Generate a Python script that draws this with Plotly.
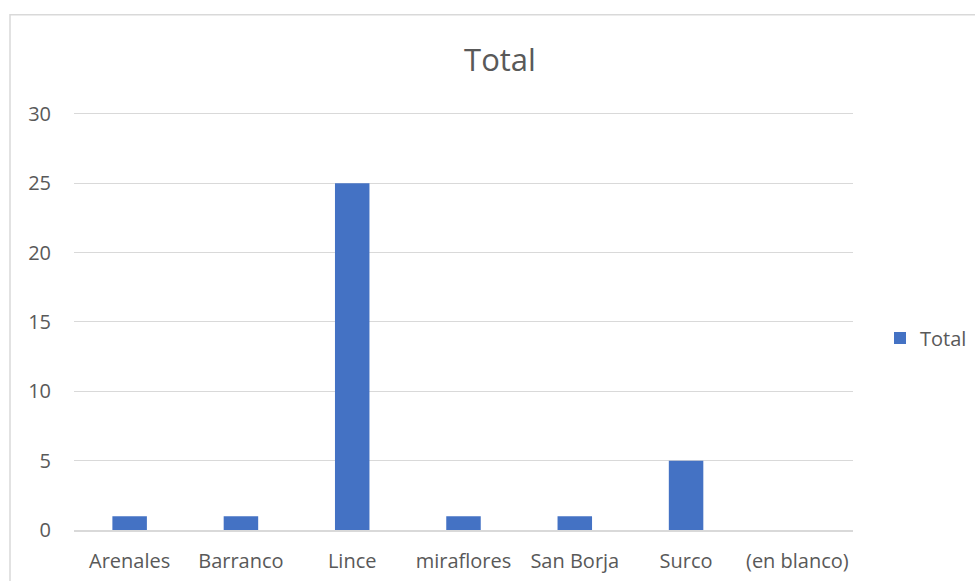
import plotly.graph_objects as go

categories = ["Arenales", "Barranco", "Lince", "miraflores", "San Borja", "Surco", "(en blanco)"]
values = [1, 1, 25, 1, 1, 5, 0]
y_ticks = [0, 5, 10, 15, 20, 25, 30]
y_max = 31

W, H = 975, 581
L, R, B = 74, 853, 530
T = B - 416 * y_max / 30
pw, ph = R - L, B - T

def px_x(x):
    return (x - L) / pw

def px_y(y):
    return (B - y) / ph

fig = go.Figure()
fig.add_trace(go.Bar(x=categories, y=values, name="Total", marker_color="#4472C4",
                     marker_line_width=0, width=0.31, showlegend=True))

font_fam = "'Open Sans', sans-serif"
fig.update_layout(
    width=W, height=H,
    margin=dict(l=L, r=W - R, t=T, b=H - B, autoexpand=False),
    paper_bgcolor="white", plot_bgcolor="white",
    font=dict(family=font_fam, color="#595959", size=20),
    title=dict(text="Total", x=px_x(500), xanchor="center", xref="paper",
               y=1 - 60 / H, yanchor="middle", yref="container",
               font=dict(size=31, color="#595959", family=font_fam)),
    showlegend=True,
    legend=dict(x=px_x(880), xanchor="left", y=px_y(338), yanchor="middle",
                font=dict(size=20, color="#595959"), itemwidth=30, bgcolor="rgba(0,0,0,0)"),
    xaxis=dict(showgrid=False, showline=True, linecolor="#d9d9d9", linewidth=1.5,
               ticks="", ticklabelstandoff=12, tickfont=dict(size=20, color="#595959")),
    yaxis=dict(range=[0, y_max], tickvals=y_ticks, showgrid=True, gridcolor="#d9d9d9",
               gridwidth=1, zeroline=False, showline=False, ticks="",
               ticklabelstandoff=22, tickfont=dict(size=20, color="#595959")),
    bargap=0.69,
    shapes=[dict(type="rect", xref="paper", yref="paper",
                 x0=px_x(10), x1=px_x(1000), y0=px_y(600), y1=px_y(15),
                 line=dict(color="#d9d9d9", width=1.5), fillcolor="rgba(0,0,0,0)", layer="below")],
)

fig.write_html("out.html")
